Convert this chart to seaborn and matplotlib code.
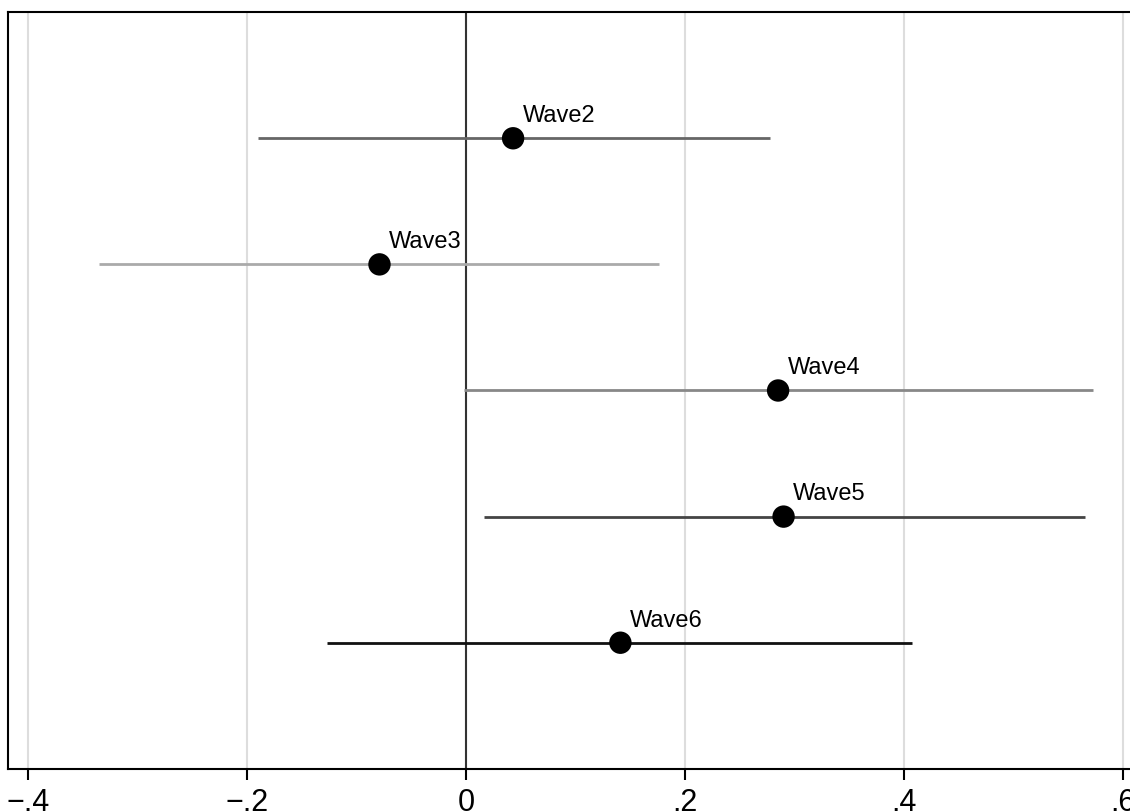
import pandas as pd
import matplotlib.pyplot as plt
import seaborn as sns

# Coefficients and 95% CIs by wave
waves = ['Wave2', 'Wave3', 'Wave4', 'Wave5', 'Wave6']
coef = [0.043, -0.079, 0.285, 0.290, 0.141]
ci_low = [-0.190, -0.335, -0.002, 0.016, -0.127]
ci_high = [0.278, 0.176, 0.573, 0.565, 0.407]
line_colors = ['#666666', '#aaaaaa', '#888888', '#444444', '#111111']

df = pd.DataFrame({'wave': waves, 'coef': coef, 'lo': ci_low, 'hi': ci_high})
df['pos'] = range(1, len(df) + 1)

sns.set_style('white')
plt.rcParams['font.family'] = ['Liberation Sans', 'DejaVu Sans']
plt.rcParams['text.color'] = 'black'
plt.rcParams['xtick.color'] = 'black'

fig = plt.figure(figsize=(11.3, 8.11), dpi=100)
ax = fig.add_axes([0.0073, 0.052, 1.004, 0.933])

ax.set_xlim(-0.418, 0.618)
ax.set_ylim(6, 0)

xt = [-0.4, -0.2, 0, 0.2, 0.4, 0.6]
ax.set_xticks(xt)
ax.set_xticklabels(['\u2212.4', '\u2212.2', '0', '.2', '.4', '.6'], fontsize=22)
ax.set_yticks([])
for x in xt:
    ax.axvline(x, color='#dddddd', lw=1.5, zorder=0)
ax.axvline(0, color='#333333', lw=1.5, zorder=1)

for i, r in df.iterrows():
    ax.hlines(r['pos'], r['lo'], r['hi'], color=line_colors[i], lw=2, zorder=2)

sns.scatterplot(data=df, x='coef', y='pos', ax=ax, color='black', s=260,
                edgecolor='none', zorder=3, legend=False)

for _, r in df.iterrows():
    ax.annotate(r['wave'], (r['coef'], r['pos']), xytext=(7, 8),
                textcoords='offset points', fontsize=17, ha='left', va='bottom',
                color='black')

ax.set_xlabel('')
ax.set_ylabel('')
ax.tick_params(axis='x', direction='out', length=8, width=1.5, color='black',
               labelcolor='black', bottom=True, pad=6)
for side in ['left', 'top', 'bottom']:
    ax.spines[side].set_color('black')
    ax.spines[side].set_linewidth(1.5)
ax.spines['right'].set_visible(False)

fig.savefig('out.png', dpi=100)
plt.close()
